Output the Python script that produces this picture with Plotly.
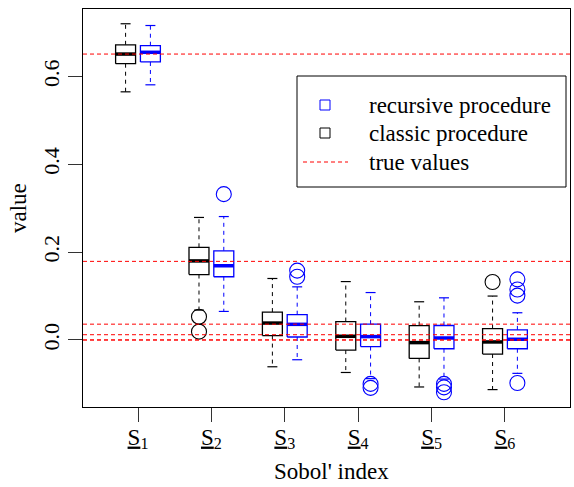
import plotly.graph_objects as go

# ---------------- data ----------------
indices = ["1", "2", "3", "4", "5", "6"]
true_values = [0.651, 0.179, 0.036, 0.012, 0.0, 0.0]

classic_lower = [0.565, 0.068, -0.061, -0.074, -0.107, -0.113]
classic_q1 = [0.629, 0.149, 0.010, -0.023, -0.042, -0.032]
classic_median = [0.651, 0.180, 0.0385, 0.0084, -0.006, -0.0045]
classic_q3 = [0.672, 0.211, 0.0635, 0.042, 0.0326, 0.026]
classic_upper = [0.720, 0.279, 0.140, 0.133, 0.087, 0.100]
classic_outliers = [[], [0.053, 0.019], [], [], [], [0.132]]

recursive_lower = [0.581, 0.065, -0.045, -0.088, -0.089, -0.076]
recursive_q1 = [0.633, 0.144, 0.0068, -0.015, -0.020, -0.020]
recursive_median = [0.655, 0.169, 0.0356, 0.0077, 0.0045, 0.0016]
recursive_q3 = [0.670, 0.203, 0.0576, 0.036, 0.033, 0.023]
recursive_upper = [0.716, 0.281, 0.121, 0.108, 0.096, 0.062]
recursive_outliers = [[], [0.332], [0.158, 0.144], [-0.100, -0.109],
                      [-0.100, -0.108, -0.119], [0.138, 0.115, 0.101, -0.098]]

tick_labels = [f"<u>S</u><sub>{i}</sub>" for i in indices]
positions = list(range(1, len(indices) + 1))

# ---------------- style ----------------
FONT = "Liberation Serif"
W = 0.136      # box half width
OFF = 0.169    # offset of each box from tick
CAP = 0.068    # staple half width
BLUE = "rgb(0,0,255)"
BLACK = "rgb(0,0,0)"
RED = "rgb(255,0,0)"

fig = go.Figure()


def add_box(pos, lo, q1, med, q3, hi, outs, color):
    common = dict(mode="lines", hoverinfo="skip", showlegend=False)
    # whiskers (dashed)
    fig.add_trace(go.Scatter(x=[pos, pos, None, pos, pos], y=[q3, hi, None, q1, lo],
                             line=dict(color=color, width=1, dash="4px,4px"), **common))
    # staples
    fig.add_trace(go.Scatter(x=[pos - CAP, pos + CAP, None, pos - CAP, pos + CAP],
                             y=[hi, hi, None, lo, lo],
                             line=dict(color=color, width=1.2), **common))
    # box
    fig.add_trace(go.Scatter(x=[pos - W, pos + W, pos + W, pos - W, pos - W],
                             y=[q1, q1, q3, q3, q1], fill="toself", fillcolor="white",
                             line=dict(color=color, width=1.3), **common))
    # median
    fig.add_trace(go.Scatter(x=[pos - W, pos + W], y=[med, med],
                             line=dict(color=color, width=3.5), **common))
    # outliers
    if outs:
        fig.add_trace(go.Scatter(x=[pos] * len(outs), y=outs, mode="markers",
                                 marker=dict(symbol="circle-open", size=15,
                                             color=color, line=dict(width=1.1, color=color)),
                                 hoverinfo="skip", showlegend=False))


for i, p in enumerate(positions):
    add_box(p - OFF, classic_lower[i], classic_q1[i], classic_median[i], classic_q3[i],
            classic_upper[i], classic_outliers[i], BLACK)
    add_box(p + OFF, recursive_lower[i], recursive_q1[i], recursive_median[i],
            recursive_q3[i], recursive_upper[i], recursive_outliers[i], BLUE)

shapes = []
for tv in true_values:
    shapes.append(dict(type="line", xref="paper", yref="y", x0=0, x1=1, y0=tv, y1=tv,
                       line=dict(color=RED, width=1, dash="4px,3px"), layer="above"))

# ---------------- custom legend ----------------
L, R_, T, B = 83, 570, 9, 407


def px(xp):
    return (xp - L) / (R_ - L)


def py(yp):
    return (B - yp) / (B - T)


shapes.append(dict(type="rect", xref="paper", yref="paper", x0=px(297), x1=px(566),
                   y0=py(187), y1=py(76), line=dict(color="black", width=1),
                   fillcolor="white", layer="above"))
shapes.append(dict(type="rect", xref="paper", yref="paper", x0=px(320), x1=px(330),
                   y0=py(110), y1=py(100), line=dict(color=BLUE, width=1), layer="above"))
shapes.append(dict(type="rect", xref="paper", yref="paper", x0=px(320), x1=px(330),
                   y0=py(138), y1=py(128), line=dict(color=BLACK, width=1), layer="above"))
shapes.append(dict(type="line", xref="paper", yref="paper", x0=px(303), x1=px(348),
                   y0=py(162), y1=py(162), line=dict(color=RED, width=1, dash="4px,3px"),
                   layer="above"))

legend_texts = ["recursive procedure", "classic procedure", "true values"]
legend_ys = [105, 133, 162]
annotations = []
for t, yy in zip(legend_texts, legend_ys):
    annotations.append(dict(text=t, xref="paper", yref="paper", x=px(367), y=py(yy),
                            xanchor="left", yanchor="middle", showarrow=False,
                            font=dict(family=FONT, size=23, color="black")))

annotations.append(dict(text="value", xref="paper", yref="paper", x=px(18), y=0.5,
                        textangle=-90, xanchor="center", yanchor="middle", showarrow=False,
                        font=dict(family=FONT, size=23, color="black")))
annotations.append(dict(text="Sobol' index", xref="paper", yref="paper", x=px(331),
                        y=py(471), xanchor="center", yanchor="middle", showarrow=False,
                        font=dict(family=FONT, size=23, color="black")))

fig.update_layout(
    width=574, height=487,
    margin=dict(l=L, r=574 - R_, t=T, b=487 - B),
    paper_bgcolor="white", plot_bgcolor="white",
    showlegend=False,
    shapes=shapes, annotations=annotations,
    font=dict(family=FONT, size=22, color="black"),
)
fig.update_xaxes(range=[0.2507, 6.886], tickmode="array", tickvals=positions,
                 ticktext=tick_labels, ticks="outside", ticklen=14, tickcolor="#333",
                 ticklabelstandoff=-5,
                 showline=True, mirror=True, linecolor="black", linewidth=1,
                 showgrid=False, zeroline=False, tickfont=dict(family=FONT, size=23))
fig.update_yaxes(range=[-0.1526, 0.7536], tickmode="array", tickvals=[0, 0.2, 0.4, 0.6],
                 ticktext=["0.0", "0.2", "0.4", "0.6"], tickangle=-90,
                 ticks="outside", ticklen=14, tickcolor="#333",
                 showline=True, mirror=True, linecolor="black", linewidth=1,
                 showgrid=False, zeroline=False, tickfont=dict(family=FONT, size=22))

fig.write_html("out.html", config={"displayModeBar": False},
               post_script="document.body.style.margin='0';")
